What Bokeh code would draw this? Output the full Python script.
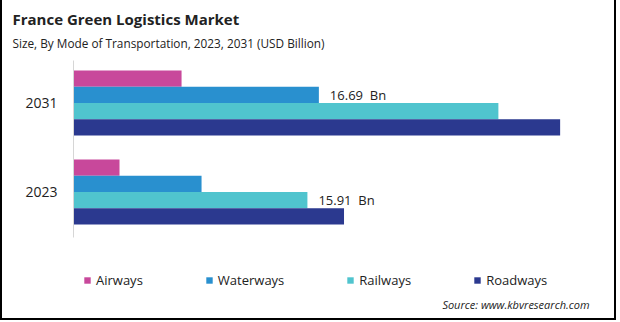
from bokeh.plotting import figure
from bokeh.models import Range1d, Label, Legend, LegendItem, ColumnDataSource, Title, FixedTicker
from bokeh.transform import dodge
from bokeh.core.properties import value
from bokeh.embed import file_html
from bokeh.resources import INLINE

years = ["2023", "2031"]
modes = ["Airways", "Waterways", "Railways", "Roadways"]
airways = [3.13, 7.35]
waterways = [8.71, 16.69]
railways = [15.91, 28.9]
roadways = [18.4, 33.1]
colors = ["#C8489B", "#2990CF", "#50C4CE", "#2B398F"]
label_mode = {"2023": "Railways", "2031": "Waterways"}
title_text = "France Green Logistics Market"
subtitle_text = "Size, By Mode of Transportation, 2023, 2031 (USD Billion)"
source_text = "Source: www.kbvresearch.com"

FONT = "Open Sans"
INK = "#222222"

ypos = list(range(len(years)))

p = figure(width=616, height=320, y_range=Range1d(-1.444, 1.567), x_range=Range1d(0, 37.07),
           output_backend="svg", toolbar_location=None,
           min_border_left=71, min_border_right=0, min_border_top=52, min_border_bottom=0)
p.outline_line_color = None
p.grid.grid_line_color = None
p.xaxis.visible = False

p.title.text = title_text
p.title.text_font = FONT
p.title.text_font_size = "15px"
p.title.text_font_style = "bold"
p.title.text_color = INK
p.title.offset = -61
p.title.standoff = 6
sub_title = Title(text=subtitle_text, text_font=FONT, text_font_size="11.8px", text_font_style="normal",
                  text_color=INK, offset=-61, standoff=3)
p.add_layout(sub_title, "above")

yax = p.yaxis[0]
yax.ticker = FixedTicker(ticks=ypos)
yax.major_label_overrides = {i: y for i, y in zip(ypos, years)}
yax.bounds = (-0.511, 1.478)
yax.axis_line_color = "#d6d6d6"
yax.major_tick_line_color = None
yax.minor_tick_line_color = None
yax.major_tick_out = 0
yax.major_label_standoff = 16
yax.major_label_text_font = FONT
yax.major_label_text_font_size = "14px"
yax.major_label_text_color = INK

src = ColumnDataSource(dict(ypos=ypos, Airways=airways, Waterways=waterways,
                            Railways=railways, Roadways=roadways))
bar_h = 0.1826
offsets = [1.5 * bar_h, 0.5 * bar_h, -0.5 * bar_h, -1.5 * bar_h]
renderers = []
for m, c, off in zip(modes, colors, offsets):
    r = p.hbar(y=dodge("ypos", off), right=m, left=0, height=bar_h,
               source=src, fill_color=c, line_color=None)
    renderers.append(r)

vals = dict(Airways=airways, Waterways=waterways, Railways=railways, Roadways=roadways)
for i, yv in enumerate(years):
    m = label_mode[yv]
    s = ColumnDataSource(dict(x=[vals[m][i]], y=[ypos[i]], t=[f"{vals[m][i]:.2f}\u00a0 Bn"]))
    p.text(x="x", y=dodge("y", offsets[modes.index(m)]), text="t", source=s,
           x_offset=11, text_baseline="middle", text_align="left",
           text_font=value(FONT), text_font_size="13px", text_color=INK)

legend = Legend(items=[LegendItem(label=m, renderers=[r]) for m, r in zip(modes, renderers)],
                orientation="horizontal", location=(10, 31), spacing=62, glyph_width=8, glyph_height=8,
                label_standoff=5, label_text_font=FONT, label_text_font_size="13px",
                label_text_color=INK, border_line_color=None, background_fill_alpha=0,
                padding=0, margin=0, label_height=16)
p.add_layout(legend, "center")

p.add_layout(Label(x=516, y=16, x_units="screen", y_units="screen", text=source_text,
                   text_font=FONT, text_font_size="11px", text_font_style="italic", text_color=INK,
                   text_align="right", text_baseline="middle"))

p.styles = {"border-left": "2px solid #000", "border-right": "2px solid #000",
            "border-bottom": "2px solid #000"}

open("out.html", "w").write(file_html(p, INLINE))
